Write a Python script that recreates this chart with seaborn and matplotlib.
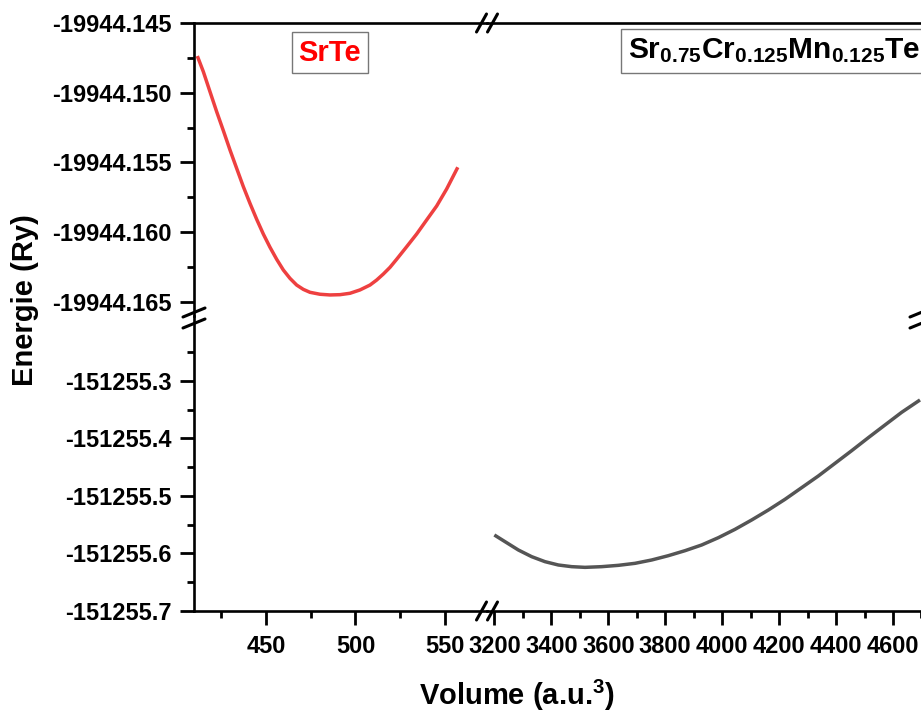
import matplotlib
matplotlib.use("Agg")
import matplotlib.pyplot as plt
import seaborn as sns
import pandas as pd
from matplotlib.lines import Line2D
from matplotlib.ticker import FixedLocator, FormatStrFormatter

# ---------------- data ----------------
srte_volume = [411.66, 415.01, 418.74, 422.46, 426.19, 429.91, 433.64, 437.36, 441.08,
               444.81, 448.53, 452.26, 455.98, 459.71, 463.43, 467.16, 470.88, 474.60,
               480.19, 485.78, 491.36, 496.95, 502.54, 508.12, 511.85, 515.57, 519.30,
               523.02, 528.61, 534.19, 539.78, 545.37, 550.95, 557.18]
srte_energy = [-19944.14737, -19944.14849, -19944.14993, -19944.15136, -19944.15272,
               -19944.15411, -19944.15543, -19944.15674, -19944.15794, -19944.15908,
               -19944.16014, -19944.16109, -19944.16195, -19944.16272, -19944.16332,
               -19944.16380, -19944.16411, -19944.16432, -19944.16446, -19944.16451,
               -19944.16449, -19944.16439, -19944.16415, -19944.16380, -19944.16344,
               -19944.16301, -19944.16253, -19944.16195, -19944.16105, -19944.16014,
               -19944.15913, -19944.15813, -19944.15691, -19944.15535]

alloy_volume = [3199.8, 3237.2, 3284.1, 3330.9, 3377.7, 3424.6, 3471.4, 3518.2, 3576.8,
                3635.3, 3693.9, 3752.4, 3810.9, 3869.5, 3928.0, 3986.6, 4045.1, 4103.7,
                4162.2, 4220.7, 4279.3, 4337.8, 4396.4, 4454.9, 4513.4, 4572.0, 4630.5,
                4694.9]
alloy_energy = [-151255.5678, -151255.5794, -151255.5939, -151255.6055, -151255.6142,
                -151255.6200, -151255.6229, -151255.6241, -151255.6229, -151255.6206,
                -151255.6171, -151255.6113, -151255.6038, -151255.5951, -151255.5852,
                -151255.5725, -151255.5580, -151255.5417, -151255.5244, -151255.5058,
                -151255.4855, -151255.4652, -151255.4432, -151255.4212, -151255.3986,
                -151255.3765, -151255.3545, -151255.3330]

top_yticks = [-19944.145, -19944.150, -19944.155, -19944.160, -19944.165]
bot_yticks = [-151255.3, -151255.4, -151255.5, -151255.6, -151255.7]
left_xticks = [450, 500, 550]
right_xticks = [3200, 3400, 3600, 3800, 4000, 4200, 4400, 4600]

label_srte = "SrTe"
label_alloy = r"Sr$_{0.75}$Cr$_{0.125}$Mn$_{0.125}$Te"
xlabel = r"Volume (a.u.$^{3}$)"
ylabel = "Energie (Ry)"

# ---------------- style ----------------
sns.set_style("ticks")
plt.rcParams["font.family"] = ["Liberation Sans", "DejaVu Sans"]
plt.rcParams["font.weight"] = "bold"
plt.rcParams["mathtext.fontset"] = "custom"
plt.rcParams["mathtext.rm"] = "Liberation Sans:bold"
plt.rcParams["mathtext.bf"] = "Liberation Sans:bold"
plt.rcParams["mathtext.it"] = "Liberation Sans:bold"
plt.rcParams["axes.unicode_minus"] = False
plt.rcParams["text.color"] = "black"
plt.rcParams["xtick.color"] = "black"
plt.rcParams["ytick.color"] = "black"
plt.rcParams["axes.labelcolor"] = "black"

W, H = 921, 711
fig = plt.figure(figsize=(W / 100, H / 100), dpi=100)

def fx(px):
    return px / W

def fy(py):
    return 1 - py / H

L, R, T, B = fx(194), fx(926), fy(23), fy(611)
XS, YS = fx(487), fy(316)

ax_tl = fig.add_axes([L, YS, XS - L, T - YS])
ax_tr = fig.add_axes([XS, YS, R - XS, T - YS])
ax_bl = fig.add_axes([L, B, XS - L, YS - B])
ax_br = fig.add_axes([XS, B, R - XS, YS - B])

df1 = pd.DataFrame({"V": srte_volume, "E": srte_energy})
df2 = pd.DataFrame({"V": alloy_volume, "E": alloy_energy})

sns.lineplot(data=df1, x="V", y="E", ax=ax_tl, color="#EE4040", lw=2.5, sort=False,
             solid_joinstyle="round", solid_capstyle="butt")
sns.lineplot(data=df2, x="V", y="E", ax=ax_br, color="#555555", lw=2.5, sort=False,
             solid_joinstyle="round", solid_capstyle="butt")

xl = (409.8, 573.5)
xr = (3174, 4716)
yt = (-19944.16602, -19944.145)
yb = (-151255.7, -151255.187)

ax_tl.set_xlim(*xl); ax_bl.set_xlim(*xl)
ax_tr.set_xlim(*xr); ax_br.set_xlim(*xr)
ax_tl.set_ylim(*yt); ax_tr.set_ylim(*yt)
ax_bl.set_ylim(*yb); ax_br.set_ylim(*yb)

spw = 1.9
for ax in (ax_tl, ax_tr, ax_bl, ax_br):
    for s in ax.spines.values():
        s.set_visible(False)
        s.set_linewidth(spw)
        s.set_color("black")
    ax.set_xlabel("")
    ax.set_ylabel("")
    ax.set_facecolor("none")
    ax.tick_params(which="both", left=False, right=False, top=False, bottom=False,
                   labelleft=False, labelbottom=False)

ax_tl.spines["left"].set_visible(True); ax_tl.spines["top"].set_visible(True)
ax_tr.spines["top"].set_visible(True); ax_tr.spines["right"].set_visible(True)
ax_bl.spines["left"].set_visible(True); ax_bl.spines["bottom"].set_visible(True)
ax_br.spines["bottom"].set_visible(True); ax_br.spines["right"].set_visible(True)

tick_fs = 17

def set_x(ax, ticks, step):
    ax.xaxis.set_major_locator(FixedLocator(ticks))
    ax.xaxis.set_minor_locator(FixedLocator([t - step / 2 for t in ticks] + [ticks[-1] + step / 2]))
    ax.xaxis.set_major_formatter(FormatStrFormatter("%d"))
    ax.tick_params(axis="x", which="major", bottom=True, labelbottom=True, direction="out",
                   length=10, width=2, pad=7, labelsize=tick_fs)
    ax.tick_params(axis="x", which="minor", bottom=True, direction="out", length=5, width=2)

def set_y(ax, ticks, minors, fmt):
    ax.yaxis.set_major_locator(FixedLocator(ticks))
    ax.yaxis.set_minor_locator(FixedLocator(minors))
    ax.yaxis.set_major_formatter(FormatStrFormatter(fmt))
    ax.tick_params(axis="y", which="major", left=True, labelleft=True, direction="out",
                   length=10, width=2, pad=6, labelsize=tick_fs)
    ax.tick_params(axis="y", which="minor", left=True, direction="out", length=5, width=2)

set_y(ax_tl, top_yticks, [t - 0.0025 for t in top_yticks], "%.3f")
set_y(ax_bl, bot_yticks, [t + 0.05 for t in bot_yticks], "%.1f")
set_x(ax_bl, left_xticks, 50)
set_x(ax_br, right_xticks, 200)

for ax in (ax_tl, ax_bl, ax_br):
    for lab in ax.get_xticklabels() + ax.get_yticklabels():
        lab.set_fontweight("bold")

# axis titles
fig.text(fx(517), fy(695), xlabel, ha="center", va="center", fontsize=21, fontweight="bold")
fig.text(fx(25), fy(300), ylabel, ha="center", va="center", rotation=90,
         fontsize=21, fontweight="bold")

# labels in boxes
ax_tl.text(0.464, 0.898, label_srte, transform=ax_tl.transAxes, ha="center", va="center",
           fontsize=21, fontweight="bold", color="#FF0000",
           bbox=dict(boxstyle="square,pad=0.22", fc="white", ec="#777777", lw=1.0))
fig.text(fx(628), fy(51), label_alloy, ha="left", va="center",
         fontsize=21.5, fontweight="bold", color="black",
         bbox=dict(boxstyle="square,pad=0.25", fc="white", ec="#777777", lw=1.0))

# axis-break marks (double slashes)
def slash_pair(cx, cy, dx, dy, sep_x, sep_y):
    for k in (-1, 1):
        ox, oy = cx + k * sep_x / 2, cy + k * sep_y / 2
        fig.add_artist(Line2D([fx(ox - dx), fx(ox + dx)], [fy(oy + dy), fy(oy - dy)],
                              transform=fig.transFigure, color="black", lw=2.2))

slash_pair(487, 23, 5, 9, 11, 0)
slash_pair(487, 611, 5, 9, 11, 0)
slash_pair(194, 318, 11, 4.5, 0, 11)
slash_pair(921, 318, 11, 4.5, 0, 11)

fig.savefig("out.png", dpi=100)
